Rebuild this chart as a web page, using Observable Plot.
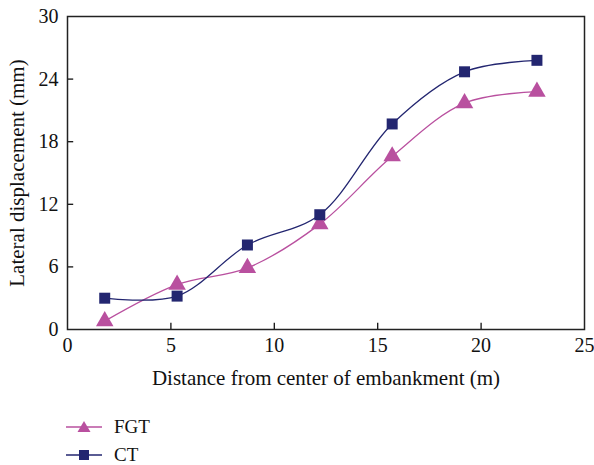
<!DOCTYPE html>
<html>
<head>
<meta charset="utf-8">
<script src="https://cdn.jsdelivr.net/npm/d3@7"></script>
<script src="https://cdn.jsdelivr.net/npm/@observablehq/plot@0.6"></script>
<style>
  html, body { margin: 0; padding: 0; background: #fff; }
  body { width: 594px; height: 465px; overflow: hidden; font-family: "Liberation Serif", "DejaVu Serif", serif; }
  #legend { position: relative; height: 70px; }
  .item { position: absolute; left: 66px; display: flex; align-items: center; font-size: 19px; color: #111; }
  .item svg { margin-right: 12px; }
</style>
</head>
<body>
<div id="chart"></div>
<div id="legend"></div>
<script>
const distance = [1.8, 5.3, 8.7, 12.2, 15.7, 19.2, 22.7];
const fgt = [0.8, 4.3, 5.9, 10.1, 16.6, 21.7, 22.8];
const ct = [3.0, 3.2, 8.1, 11.0, 19.7, 24.7, 25.8];
const xTicks = [0, 5, 10, 15, 20, 25];
const yTicks = [0, 6, 12, 18, 24, 30];
const seriesNames = ["FGT", "CT"];
const colors = {FGT: "#b9509f", CT: "#232670"};

const rows = [];
distance.forEach((d, i) => rows.push({x: d, y: fgt[i], s: "FGT"}));
distance.forEach((d, i) => rows.push({x: d, y: ct[i], s: "CT"}));
const fgtRows = rows.filter(r => r.s === "FGT");
const ctRows = rows.filter(r => r.s === "CT");

const chart = Plot.plot({
  width: 594,
  height: 395,
  marginLeft: 67,
  marginRight: 10,
  marginTop: 16,
  marginBottom: 66,
  style: {fontFamily: "'Liberation Serif', 'DejaVu Serif', serif", fontSize: "20px", color: "#111", background: "#fff"},
  x: {domain: [0, 25]},
  y: {domain: [0, 30]},
  marks: [
    Plot.axisX({ticks: xTicks, tickSize: 0, tickPadding: 8, fontSize: 20, label: null}),
    Plot.axisX({ticks: [], tickSize: 0, label: "Distance from center of embankment (m)", labelAnchor: "center", labelArrow: "none", labelOffset: 55, fontSize: 21}),
    Plot.axisY({ticks: yTicks, tickSize: 0, tickPadding: 9, fontSize: 20, label: null}),
    Plot.axisY({ticks: [], tickSize: 0, label: "Lateral displacement (mm)", labelAnchor: "center", labelArrow: "none", labelOffset: 58, fontSize: 21}),
    Plot.ruleX(xTicks.slice(1, -1), {x: d => d, y1: 0, y2: 0.6, stroke: "#111", strokeWidth: 1.3}),
    Plot.ruleY(yTicks.slice(1, -1), {y: d => d, x1: 0, x2: 0.3, stroke: "#111", strokeWidth: 1.3}),
    Plot.frame({stroke: "#222", strokeWidth: 1.5}),
    Plot.line(fgtRows, {x: "x", y: "y", stroke: colors.FGT, strokeWidth: 1.3, curve: "catmull-rom"}),
    Plot.line(ctRows, {x: "x", y: "y", stroke: colors.CT, strokeWidth: 1.3, curve: "catmull-rom"}),
    Plot.dot(fgtRows, {x: "x", y: "y", symbol: "triangle", r: 6.5, fill: colors.FGT, stroke: "none"}),
    Plot.dot(ctRows, {x: "x", y: "y", symbol: "square", r: 6.2, fill: colors.CT, stroke: "none"})
  ]
});
document.getElementById("chart").appendChild(chart);

const legend = document.getElementById("legend");
seriesNames.forEach((name, i) => {
  const item = document.createElement("div");
  item.className = "item";
  item.style.top = (21 + i * 28) + "px";
  const sym = name === "FGT"
    ? '<polygon points="18,3 24.5,14 11.5,14" fill="' + colors[name] + '"/>'
    : '<rect x="13" y="4" width="10" height="10" fill="' + colors[name] + '"/>';
  item.innerHTML = '<svg width="36" height="18"><line x1="0" y1="9" x2="36" y2="9" stroke="' + colors[name] + '" stroke-width="1.3"/>' + sym + '</svg><span>' + name + '</span>';
  legend.appendChild(item);
});
</script>
</body>
</html>
